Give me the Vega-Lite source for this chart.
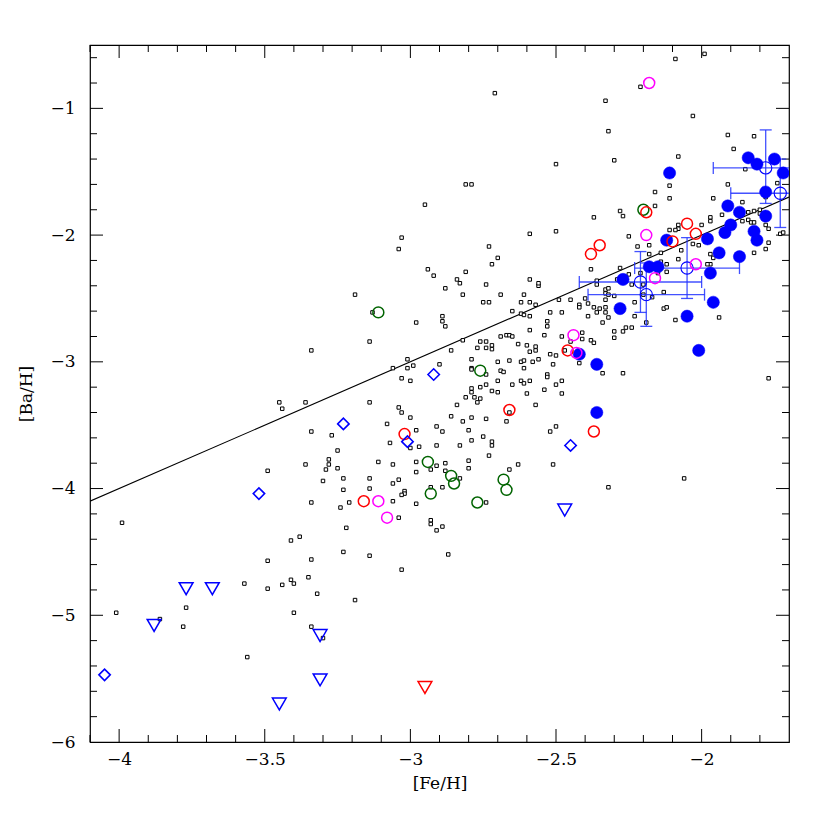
{
  "$schema": "https://vega.github.io/schema/vega-lite/v6.json",
  "autosize": {"type": "none"},
  "width": 699,
  "height": 697,
  "padding": {"left": 90, "top": 45, "right": 41, "bottom": 88},
  "background": "white",
  "config": {
    "view": {"stroke": "black", "strokeWidth": 1.2},
    "axis": {"grid": false, "domain": false, "labelColor": "black", "labelFont": "DejaVu Serif", "labelFontSize": 17, "titleFont": "DejaVu Serif", "titleFontSize": 17, "titleFontWeight": "normal", "titleColor": "black"}
  },
  "datasets": {
    "xmaj": [{"v":-4},{"v":-3.5},{"v":-3},{"v":-2.5},{"v":-2}],
    "xmin": [{"v":-4.1},{"v":-3.9},{"v":-3.8},{"v":-3.7},{"v":-3.6},{"v":-3.4},{"v":-3.3},{"v":-3.2},{"v":-3.1},{"v":-2.9},{"v":-2.8},{"v":-2.7},{"v":-2.6},{"v":-2.4},{"v":-2.3},{"v":-2.2},{"v":-2.1},{"v":-1.9},{"v":-1.8}],
    "ymaj": [{"v":-5},{"v":-4},{"v":-3},{"v":-2},{"v":-1}],
    "ymin": [{"v":-5.8},{"v":-5.6},{"v":-5.4},{"v":-5.2},{"v":-4.8},{"v":-4.6},{"v":-4.4},{"v":-4.2},{"v":-3.8},{"v":-3.6},{"v":-3.4},{"v":-3.2},{"v":-2.8},{"v":-2.6},{"v":-2.4},{"v":-2.2},{"v":-1.8},{"v":-1.6},{"v":-1.4},{"v":-1.2},{"v":-0.8},{"v":-0.6}],
    "field": [
      {"x":-2.71,"y":-0.88},{"x":-2.50,"y":-1.44},{"x":-2.81,"y":-1.60},{"x":-2.79,"y":-1.60},{"x":-2.95,"y":-1.76},{"x":-3.03,"y":-2.02},{"x":-3.04,"y":-2.11},{"x":-2.59,"y":-1.99},{"x":-2.50,"y":-1.97},{"x":-2.73,"y":-2.09},
      {"x":-2.09,"y":-0.61},{"x":-1.99,"y":-0.57},{"x":-2.21,"y":-0.83},{"x":-2.33,"y":-0.94},{"x":-2.32,"y":-1.18},{"x":-2.30,"y":-1.41},{"x":-2.03,"y":-1.06},{"x":-1.91,"y":-1.21},{"x":-1.82,"y":-1.22},{"x":-1.89,"y":-1.32},
      {"x":-2.08,"y":-1.38},{"x":-1.85,"y":-1.48},{"x":-2.11,"y":-1.61},{"x":-2.11,"y":-1.71},{"x":-2.16,"y":-1.66},{"x":-2.16,"y":-1.77},{"x":-2.28,"y":-1.81},{"x":-2.27,"y":-1.85},{"x":-2.37,"y":-1.86},{"x":-1.96,"y":-1.71},
      {"x":-1.91,"y":-1.60},{"x":-1.86,"y":-1.74},{"x":-1.74,"y":-1.59},{"x":-1.78,"y":-1.70},{"x":-1.80,"y":-1.80},{"x":-1.82,"y":-1.81},{"x":-1.84,"y":-1.82},{"x":-1.80,"y":-1.83},{"x":-1.78,"y":-1.85},{"x":-1.86,"y":-1.89},
      {"x":-1.84,"y":-1.88},{"x":-1.83,"y":-1.90},{"x":-1.82,"y":-1.90},{"x":-1.93,"y":-1.84},{"x":-1.97,"y":-1.86},{"x":-1.97,"y":-1.89},{"x":-2.00,"y":-1.92},{"x":-2.08,"y":-1.92},{"x":-2.08,"y":-1.95},{"x":-2.09,"y":-1.96},
      {"x":-2.11,"y":-1.96},{"x":-2.25,"y":-2.01},{"x":-2.22,"y":-2.09},{"x":-2.18,"y":-2.08},{"x":-2.18,"y":-2.15},{"x":-2.14,"y":-2.14},{"x":-2.07,"y":-2.12},{"x":-2.03,"y":-2.07},{"x":-2.01,"y":-2.08},{"x":-1.97,"y":-2.15},
      {"x":-1.77,"y":-2.06},{"x":-1.78,"y":-2.11},{"x":-1.73,"y":-1.99},{"x":-1.72,"y":-1.98},{"x":-1.78,"y":-1.92},{"x":-1.77,"y":-1.95},{"x":-2.08,"y":-2.19},{"x":-1.97,"y":-2.23},{"x":-1.96,"y":-2.18},{"x":-1.98,"y":-2.23},
      {"x":-1.82,"y":-2.14},{"x":-2.12,"y":-2.23},{"x":-2.14,"y":-2.21},{"x":-2.28,"y":-2.26},{"x":-2.38,"y":-2.27},{"x":-2.15,"y":-2.30},{"x":-2.12,"y":-2.29},{"x":-2.21,"y":-2.30},{"x":-2.25,"y":-2.31},{"x":-2.29,"y":-2.35},
      {"x":-2.24,"y":-2.39},{"x":-2.20,"y":-2.39},{"x":-2.36,"y":-2.36},{"x":-2.36,"y":-2.39},{"x":-2.40,"y":-2.50},{"x":-2.42,"y":-2.55},{"x":-2.42,"y":-2.57},{"x":-2.39,"y":-2.54},{"x":-2.33,"y":-2.43},{"x":-2.32,"y":-2.42},
      {"x":-2.33,"y":-2.46},{"x":-2.32,"y":-2.47},{"x":-2.30,"y":-2.48},{"x":-2.33,"y":-2.51},{"x":-2.37,"y":-2.57},{"x":-2.35,"y":-2.58},{"x":-2.33,"y":-2.57},{"x":-2.36,"y":-2.61},{"x":-2.33,"y":-2.61},{"x":-2.32,"y":-2.65},
      {"x":-2.39,"y":-2.64},{"x":-2.34,"y":-2.69},{"x":-2.48,"y":-2.61},{"x":-2.45,"y":-2.51},{"x":-2.49,"y":-2.51},{"x":-2.13,"y":-2.45},{"x":-2.17,"y":-2.49},{"x":-2.20,"y":-2.47},{"x":-2.23,"y":-2.53},{"x":-2.13,"y":-2.58},
      {"x":-2.12,"y":-2.57},{"x":-2.09,"y":-2.67},{"x":-2.23,"y":-2.64},{"x":-2.19,"y":-2.69},{"x":-2.26,"y":-2.73},{"x":-2.24,"y":-2.73},{"x":-2.27,"y":-2.76},{"x":-2.30,"y":-2.76},{"x":-2.30,"y":-2.81},{"x":-2.38,"y":-2.83},
      {"x":-2.37,"y":-2.85},{"x":-2.41,"y":-2.77},{"x":-2.41,"y":-2.82},{"x":-2.45,"y":-2.84},{"x":-2.47,"y":-2.91},{"x":-2.48,"y":-2.80},{"x":-2.34,"y":-3.09},{"x":-2.27,"y":-3.09},{"x":-2.42,"y":-3.01},{"x":-2.48,"y":-3.15},
      {"x":-2.48,"y":-3.25},{"x":-1.94,"y":-2.65},{"x":-1.77,"y":-3.13},{"x":-2.56,"y":-2.40},{"x":-2.70,"y":-2.18},{"x":-2.72,"y":-2.23},{"x":-2.94,"y":-2.27},{"x":-2.92,"y":-2.32},{"x":-2.81,"y":-2.29},{"x":-2.84,"y":-2.35},
      {"x":-2.83,"y":-2.38},{"x":-2.88,"y":-2.42},{"x":-2.74,"y":-2.39},{"x":-2.82,"y":-2.47},{"x":-2.69,"y":-2.47},{"x":-2.59,"y":-2.35},{"x":-2.56,"y":-2.38},{"x":-2.61,"y":-2.47},{"x":-3.19,"y":-2.47},{"x":-2.75,"y":-2.53},
      {"x":-2.73,"y":-2.53},{"x":-2.62,"y":-2.53},{"x":-2.59,"y":-2.53},{"x":-2.57,"y":-2.55},{"x":-2.65,"y":-2.60},{"x":-2.62,"y":-2.62},{"x":-2.61,"y":-2.63},{"x":-2.59,"y":-2.64},{"x":-2.52,"y":-2.61},{"x":-3.13,"y":-2.61},
      {"x":-2.98,"y":-2.69},{"x":-2.89,"y":-2.64},{"x":-2.89,"y":-2.68},{"x":-2.88,"y":-2.72},{"x":-2.53,"y":-2.68},{"x":-2.53,"y":-2.72},{"x":-2.59,"y":-2.75},{"x":-2.54,"y":-2.79},{"x":-3.14,"y":-2.84},{"x":-2.82,"y":-2.83},
      {"x":-2.76,"y":-2.84},{"x":-2.74,"y":-2.84},{"x":-2.72,"y":-2.87},{"x":-2.72,"y":-2.90},{"x":-2.74,"y":-2.89},{"x":-2.77,"y":-2.89},{"x":-2.69,"y":-2.80},{"x":-2.67,"y":-2.79},{"x":-2.66,"y":-2.79},{"x":-2.65,"y":-2.80},
      {"x":-2.63,"y":-2.86},{"x":-2.60,"y":-2.87},{"x":-2.57,"y":-2.88},{"x":-2.57,"y":-2.91},{"x":-2.59,"y":-2.92},{"x":-2.56,"y":-2.98},{"x":-2.52,"y":-2.94},{"x":-2.50,"y":-2.95},{"x":-2.66,"y":-2.99},{"x":-2.62,"y":-3.00},
      {"x":-2.61,"y":-2.99},{"x":-2.61,"y":-3.05},{"x":-2.58,"y":-3.00},{"x":-2.51,"y":-3.02},{"x":-2.86,"y":-2.91},{"x":-2.90,"y":-3.02},{"x":-3.01,"y":-2.98},{"x":-2.99,"y":-3.03},{"x":-3.01,"y":-3.05},{"x":-3.06,"y":-3.05},
      {"x":-3.03,"y":-3.13},{"x":-3.00,"y":-3.15},{"x":-2.79,"y":-2.98},{"x":-2.79,"y":-3.05},{"x":-2.79,"y":-3.06},{"x":-2.74,"y":-3.10},{"x":-2.70,"y":-3.00},{"x":-2.69,"y":-3.07},{"x":-2.68,"y":-3.08},{"x":-2.70,"y":-3.15},
      {"x":-2.65,"y":-3.18},{"x":-2.62,"y":-3.15},{"x":-2.61,"y":-3.17},{"x":-2.59,"y":-3.15},{"x":-2.53,"y":-3.10},{"x":-2.53,"y":-3.12},{"x":-2.50,"y":-3.18},{"x":-2.54,"y":-3.22},{"x":-2.60,"y":-3.25},{"x":-2.57,"y":-3.34},
      {"x":-2.72,"y":-3.23},{"x":-2.70,"y":-3.24},{"x":-2.74,"y":-3.18},{"x":-2.76,"y":-3.20},{"x":-2.79,"y":-3.21},{"x":-2.79,"y":-3.24},{"x":-2.81,"y":-3.28},{"x":-2.78,"y":-3.28},{"x":-2.76,"y":-3.29},{"x":-2.77,"y":-3.32},
      {"x":-2.84,"y":-3.34},{"x":-2.86,"y":-3.43},{"x":-2.82,"y":-3.47},{"x":-2.79,"y":-3.44},{"x":-2.74,"y":-3.45},{"x":-2.66,"y":-3.40},{"x":-2.67,"y":-3.47},{"x":-2.50,"y":-3.51},{"x":-2.52,"y":-3.55},{"x":-3.14,"y":-3.32},
      {"x":-3.04,"y":-3.36},{"x":-3.03,"y":-3.40},{"x":-3.00,"y":-3.44},{"x":-3.08,"y":-3.49},{"x":-2.98,"y":-3.54},{"x":-2.91,"y":-3.51},{"x":-2.89,"y":-3.55},{"x":-2.80,"y":-3.54},{"x":-2.79,"y":-3.62},{"x":-2.75,"y":-3.59},
      {"x":-2.72,"y":-3.63},{"x":-2.72,"y":-3.66},{"x":-2.83,"y":-3.66},{"x":-2.91,"y":-3.66},{"x":-2.97,"y":-3.67},{"x":-3.00,"y":-3.68},{"x":-3.07,"y":-3.64},{"x":-3.25,"y":-3.70},{"x":-3.27,"y":-3.58},{"x":-2.73,"y":-3.74},
      {"x":-2.63,"y":-3.81},{"x":-2.66,"y":-3.85},{"x":-2.51,"y":-3.81},{"x":-2.80,"y":-3.78},{"x":-2.80,"y":-3.84},{"x":-2.88,"y":-3.80},{"x":-2.91,"y":-3.82},{"x":-2.93,"y":-3.85},{"x":-2.88,"y":-3.86},{"x":-2.98,"y":-3.79},
      {"x":-2.98,"y":-3.87},{"x":-3.06,"y":-3.81},{"x":-3.11,"y":-3.79},{"x":-3.25,"y":-3.84},{"x":-3.23,"y":-3.92},{"x":-3.14,"y":-3.92},{"x":-3.04,"y":-3.93},{"x":-3.06,"y":-3.96},{"x":-3.14,"y":-4.00},{"x":-3.23,"y":-4.01},
      {"x":-3.02,"y":-4.02},{"x":-3.02,"y":-4.04},{"x":-3.03,"y":-4.05},{"x":-2.98,"y":-4.12},{"x":-2.93,"y":-3.99},{"x":-2.89,"y":-3.99},{"x":-2.83,"y":-3.92},{"x":-2.74,"y":-4.11},{"x":-3.24,"y":-4.15},{"x":-3.21,"y":-4.11},
      {"x":-3.06,"y":-4.10},{"x":-3.04,"y":-4.23},{"x":-2.93,"y":-4.25},{"x":-3.34,"y":-2.91},{"x":-3.45,"y":-3.32},{"x":-3.44,"y":-3.37},{"x":-3.36,"y":-3.32},{"x":-3.34,"y":-3.55},{"x":-3.28,"y":-3.77},{"x":-3.28,"y":-3.81},
      {"x":-3.29,"y":-3.85},{"x":-3.36,"y":-3.81},{"x":-3.49,"y":-3.86},{"x":-3.30,"y":-3.94},{"x":-3.34,"y":-4.11},{"x":-3.99,"y":-4.27},{"x":-3.41,"y":-4.41},{"x":-3.38,"y":-4.38},{"x":-3.49,"y":-4.57},{"x":-3.34,"y":-4.56},
      {"x":-3.41,"y":-4.72},{"x":-3.40,"y":-4.75},{"x":-3.44,"y":-4.76},{"x":-3.35,"y":-4.70},{"x":-3.49,"y":-4.79},{"x":-3.57,"y":-4.75},{"x":-3.32,"y":-4.83},{"x":-3.77,"y":-4.94},{"x":-4.01,"y":-4.98},{"x":-3.40,"y":-4.98},
      {"x":-3.86,"y":-5.03},{"x":-3.78,"y":-5.09},{"x":-3.34,"y":-5.09},{"x":-3.30,"y":-5.18},{"x":-3.56,"y":-5.33},{"x":-2.93,"y":-4.28},{"x":-2.91,"y":-4.33},{"x":-2.89,"y":-4.30},{"x":-3.22,"y":-4.31},{"x":-3.23,"y":-4.50},
      {"x":-3.14,"y":-4.53},{"x":-3.03,"y":-4.64},{"x":-2.87,"y":-4.52},{"x":-3.19,"y":-4.88},{"x":-2.32,"y":-3.99},{"x":-2.06,"y":-3.92}
    ],
    "bluefilled": [
      {"x":-1.84,"y":-1.39},{"x":-1.81,"y":-1.44},{"x":-1.75,"y":-1.40},{"x":-1.72,"y":-1.51},{"x":-2.11,"y":-1.51},{"x":-1.78,"y":-1.66},{"x":-1.91,"y":-1.77},{"x":-1.87,"y":-1.82},{"x":-1.78,"y":-1.85},{"x":-1.90,"y":-1.92},
      {"x":-1.92,"y":-1.98},{"x":-1.82,"y":-1.97},{"x":-1.81,"y":-2.04},{"x":-1.98,"y":-2.03},{"x":-1.94,"y":-2.14},{"x":-1.87,"y":-2.17},{"x":-2.12,"y":-2.04},{"x":-2.18,"y":-2.25},{"x":-2.15,"y":-2.25},{"x":-1.97,"y":-2.30},
      {"x":-2.27,"y":-2.35},{"x":-1.96,"y":-2.53},{"x":-2.28,"y":-2.58},{"x":-2.05,"y":-2.64},{"x":-2.01,"y":-2.91},{"x":-2.36,"y":-3.02},{"x":-2.36,"y":-3.40},{"x":-2.42,"y":-2.94}
    ],
    "errs": [
      {"x":-2.21,"y":-2.37,"xlo":-2.42,"xhi":-2.00,"ylo":-2.61,"yhi":-2.13},
      {"x":-2.19,"y":-2.47,"xlo":-2.39,"xhi":-1.99,"ylo":-2.72,"yhi":-2.22},
      {"x":-2.05,"y":-2.26,"xlo":-2.23,"xhi":-1.87,"ylo":-2.50,"yhi":-2.02},
      {"x":-1.78,"y":-1.47,"xlo":-1.96,"xhi":-1.60,"ylo":-1.75,"yhi":-1.17},
      {"x":-1.73,"y":-1.67,"xlo":-1.90,"xhi":-1.56,"ylo":-1.94,"yhi":-1.40}
    ],
    "xcaps": [
      {"x":-2.42,"y":-2.37},{"x":-2.00,"y":-2.37},{"x":-2.39,"y":-2.47},{"x":-1.99,"y":-2.47},{"x":-2.23,"y":-2.26},{"x":-1.87,"y":-2.26},{"x":-1.96,"y":-1.47},{"x":-1.90,"y":-1.67}
    ],
    "ycaps": [
      {"x":-2.21,"y":-2.61},{"x":-2.21,"y":-2.13},{"x":-2.19,"y":-2.72},{"x":-2.19,"y":-2.22},{"x":-2.05,"y":-2.50},{"x":-2.05,"y":-2.02},{"x":-1.78,"y":-1.75},{"x":-1.78,"y":-1.17},{"x":-1.73,"y":-1.94},{"x":-1.73,"y":-1.40}
    ],
    "red": [
      {"x":-2.19,"y":-1.82},{"x":-2.05,"y":-1.91},{"x":-2.02,"y":-1.99},{"x":-2.10,"y":-2.05},{"x":-2.35,"y":-2.08},{"x":-2.38,"y":-2.15},{"x":-2.46,"y":-2.91},{"x":-2.37,"y":-3.55},{"x":-2.66,"y":-3.38},{"x":-3.02,"y":-3.57},{"x":-3.16,"y":-4.10}
    ],
    "magenta": [
      {"x":-2.18,"y":-0.80},{"x":-2.19,"y":-2.00},{"x":-2.16,"y":-2.34},{"x":-2.02,"y":-2.23},{"x":-2.44,"y":-2.79},{"x":-2.43,"y":-2.93},{"x":-3.11,"y":-4.10},{"x":-3.08,"y":-4.23}
    ],
    "green": [
      {"x":-2.20,"y":-1.80},{"x":-3.11,"y":-2.61},{"x":-2.76,"y":-3.07},{"x":-2.94,"y":-3.79},{"x":-2.86,"y":-3.90},{"x":-2.85,"y":-3.96},{"x":-2.68,"y":-3.93},{"x":-2.67,"y":-4.01},{"x":-2.93,"y":-4.04},{"x":-2.77,"y":-4.11}
    ],
    "diamonds": [
      {"x":-2.92,"y":-3.10},{"x":-3.23,"y":-3.49},{"x":-3.01,"y":-3.63},{"x":-2.45,"y":-3.66},{"x":-3.52,"y":-4.04},{"x":-4.05,"y":-5.47}
    ],
    "bluetri": [
      {"x":-3.77,"y":-4.79},{"x":-3.68,"y":-4.79},{"x":-3.88,"y":-5.08},{"x":-3.31,"y":-5.16},{"x":-3.31,"y":-5.51},{"x":-3.45,"y":-5.70},{"x":-2.47,"y":-4.17}
    ],
    "redtri": [
      {"x":-2.95,"y":-5.57}
    ],
    "line": [
      {"x":-4.1,"y":-4.1},{"x":-1.7,"y":-1.7}
    ]
  },
  "layer": [
    {
      "data": {"name": "line"},
      "mark": {"type": "line", "color": "black", "strokeWidth": 1.1, "clip": true},
      "encoding": {
        "x": {"field": "x", "type": "quantitative", "scale": {"domain": [-4.1, -1.7], "nice": false, "zero": false},
          "axis": {"orient": "bottom", "title": "[Fe/H]", "titlePadding": 8, "format": "~g", "ticks": false,
            "values": [-4, -3.5, -3, -2.5, -2], "labelPadding": 9}},
        "y": {"field": "y", "type": "quantitative", "scale": {"domain": [-6, -0.5], "nice": false, "zero": false},
          "axis": {"orient": "left", "title": "[Ba/H]", "titlePadding": 14, "format": "~g", "ticks": false,
            "values": [-6, -5, -4, -3, -2, -1], "labelPadding": 15}}
      }
    },
    {
      "data": {"name": "xmaj"},
      "mark": {"type": "tick", "orient": "vertical", "color": "black", "size": 13, "thickness": 1, "yOffset": -6.5, "opacity": 1},
      "encoding": {"x": {"field": "v", "type": "quantitative"}, "y": {"datum": -6, "type": "quantitative"}}
    },
    {
      "data": {"name": "xmaj"},
      "mark": {"type": "tick", "orient": "vertical", "color": "black", "size": 13, "thickness": 1, "yOffset": 6.5, "opacity": 1},
      "encoding": {"x": {"field": "v", "type": "quantitative"}, "y": {"datum": -0.5, "type": "quantitative"}}
    },
    {
      "data": {"name": "xmin"},
      "mark": {"type": "tick", "orient": "vertical", "color": "black", "size": 7, "thickness": 1, "yOffset": -3.5, "opacity": 1},
      "encoding": {"x": {"field": "v", "type": "quantitative"}, "y": {"datum": -6, "type": "quantitative"}}
    },
    {
      "data": {"name": "xmin"},
      "mark": {"type": "tick", "orient": "vertical", "color": "black", "size": 7, "thickness": 1, "yOffset": 3.5, "opacity": 1},
      "encoding": {"x": {"field": "v", "type": "quantitative"}, "y": {"datum": -0.5, "type": "quantitative"}}
    },
    {
      "data": {"name": "ymaj"},
      "mark": {"type": "tick", "orient": "horizontal", "color": "black", "size": 13, "thickness": 1, "xOffset": 6.5, "opacity": 1},
      "encoding": {"y": {"field": "v", "type": "quantitative"}, "x": {"datum": -4.1, "type": "quantitative"}}
    },
    {
      "data": {"name": "ymaj"},
      "mark": {"type": "tick", "orient": "horizontal", "color": "black", "size": 13, "thickness": 1, "xOffset": -6.5, "opacity": 1},
      "encoding": {"y": {"field": "v", "type": "quantitative"}, "x": {"datum": -1.7, "type": "quantitative"}}
    },
    {
      "data": {"name": "ymin"},
      "mark": {"type": "tick", "orient": "horizontal", "color": "black", "size": 7, "thickness": 1, "xOffset": 3.5, "opacity": 1},
      "encoding": {"y": {"field": "v", "type": "quantitative"}, "x": {"datum": -4.1, "type": "quantitative"}}
    },
    {
      "data": {"name": "ymin"},
      "mark": {"type": "tick", "orient": "horizontal", "color": "black", "size": 7, "thickness": 1, "xOffset": -3.5, "opacity": 1},
      "encoding": {"y": {"field": "v", "type": "quantitative"}, "x": {"datum": -1.7, "type": "quantitative"}}
    },
    {
      "data": {"name": "field"},
      "mark": {"type": "point", "shape": "square", "size": 12, "stroke": "black", "strokeWidth": 1, "fill": "white", "filled": false, "opacity": 1},
      "encoding": {
        "x": {"field": "x", "type": "quantitative"},
        "y": {"field": "y", "type": "quantitative"}
      }
    },
    {
      "data": {"name": "errs"},
      "mark": {"type": "rule", "color": "#2233ff", "strokeWidth": 1.3, "opacity": 0.85, "clip": true},
      "encoding": {
        "x": {"field": "xlo", "type": "quantitative"},
        "x2": {"field": "xhi"},
        "y": {"field": "y", "type": "quantitative"}
      }
    },
    {
      "data": {"name": "errs"},
      "mark": {"type": "rule", "color": "#2233ff", "strokeWidth": 1.3, "opacity": 0.85, "clip": true},
      "encoding": {
        "x": {"field": "x", "type": "quantitative"},
        "y": {"field": "ylo", "type": "quantitative"},
        "y2": {"field": "yhi"}
      }
    },
    {
      "data": {"name": "xcaps"},
      "mark": {"type": "point", "shape": "M 0 -1 L 0 1", "size": 144, "stroke": "#2233ff", "strokeWidth": 1.3, "filled": false, "opacity": 0.85, "clip": true},
      "encoding": {
        "x": {"field": "x", "type": "quantitative"},
        "y": {"field": "y", "type": "quantitative"}
      }
    },
    {
      "data": {"name": "ycaps"},
      "mark": {"type": "point", "shape": "M -1 0 L 1 0", "size": 144, "stroke": "#2233ff", "strokeWidth": 1.3, "filled": false, "opacity": 0.85, "clip": true},
      "encoding": {
        "x": {"field": "x", "type": "quantitative"},
        "y": {"field": "y", "type": "quantitative"}
      }
    },
    {
      "data": {"name": "errs"},
      "mark": {"type": "point", "shape": "circle", "size": 150, "stroke": "#0000ff", "strokeWidth": 1.1, "filled": false, "opacity": 1, "clip": true},
      "encoding": {
        "x": {"field": "x", "type": "quantitative"},
        "y": {"field": "y", "type": "quantitative"}
      }
    },
    {
      "data": {"name": "bluefilled"},
      "mark": {"type": "point", "shape": "circle", "size": 150, "fill": "#0000ff", "stroke": "#0000ff", "strokeWidth": 0.5, "filled": true, "opacity": 1, "clip": true},
      "encoding": {
        "x": {"field": "x", "type": "quantitative"},
        "y": {"field": "y", "type": "quantitative"}
      }
    },
    {
      "data": {"name": "green"},
      "mark": {"type": "point", "shape": "circle", "size": 120, "stroke": "#006400", "strokeWidth": 1.5, "filled": false, "opacity": 1},
      "encoding": {
        "x": {"field": "x", "type": "quantitative"},
        "y": {"field": "y", "type": "quantitative"}
      }
    },
    {
      "data": {"name": "red"},
      "mark": {"type": "point", "shape": "circle", "size": 120, "stroke": "#ff0000", "strokeWidth": 1.5, "filled": false, "opacity": 1},
      "encoding": {
        "x": {"field": "x", "type": "quantitative"},
        "y": {"field": "y", "type": "quantitative"}
      }
    },
    {
      "data": {"name": "magenta"},
      "mark": {"type": "point", "shape": "circle", "size": 120, "stroke": "#ff00ff", "strokeWidth": 1.5, "filled": false, "opacity": 1},
      "encoding": {
        "x": {"field": "x", "type": "quantitative"},
        "y": {"field": "y", "type": "quantitative"}
      }
    },
    {
      "data": {"name": "diamonds"},
      "mark": {"type": "point", "shape": "diamond", "size": 130, "stroke": "#0000ff", "strokeWidth": 1.6, "filled": false, "opacity": 1},
      "encoding": {
        "x": {"field": "x", "type": "quantitative"},
        "y": {"field": "y", "type": "quantitative"}
      }
    },
    {
      "data": {"name": "bluetri"},
      "mark": {"type": "point", "shape": "triangle-down", "size": 190, "stroke": "#0000ff", "strokeWidth": 1.5, "filled": false, "opacity": 1},
      "encoding": {
        "x": {"field": "x", "type": "quantitative"},
        "y": {"field": "y", "type": "quantitative"}
      }
    },
    {
      "data": {"name": "redtri"},
      "mark": {"type": "point", "shape": "triangle-down", "size": 190, "stroke": "#ff0000", "strokeWidth": 1.5, "filled": false, "opacity": 1},
      "encoding": {
        "x": {"field": "x", "type": "quantitative"},
        "y": {"field": "y", "type": "quantitative"}
      }
    }
  ]
}
